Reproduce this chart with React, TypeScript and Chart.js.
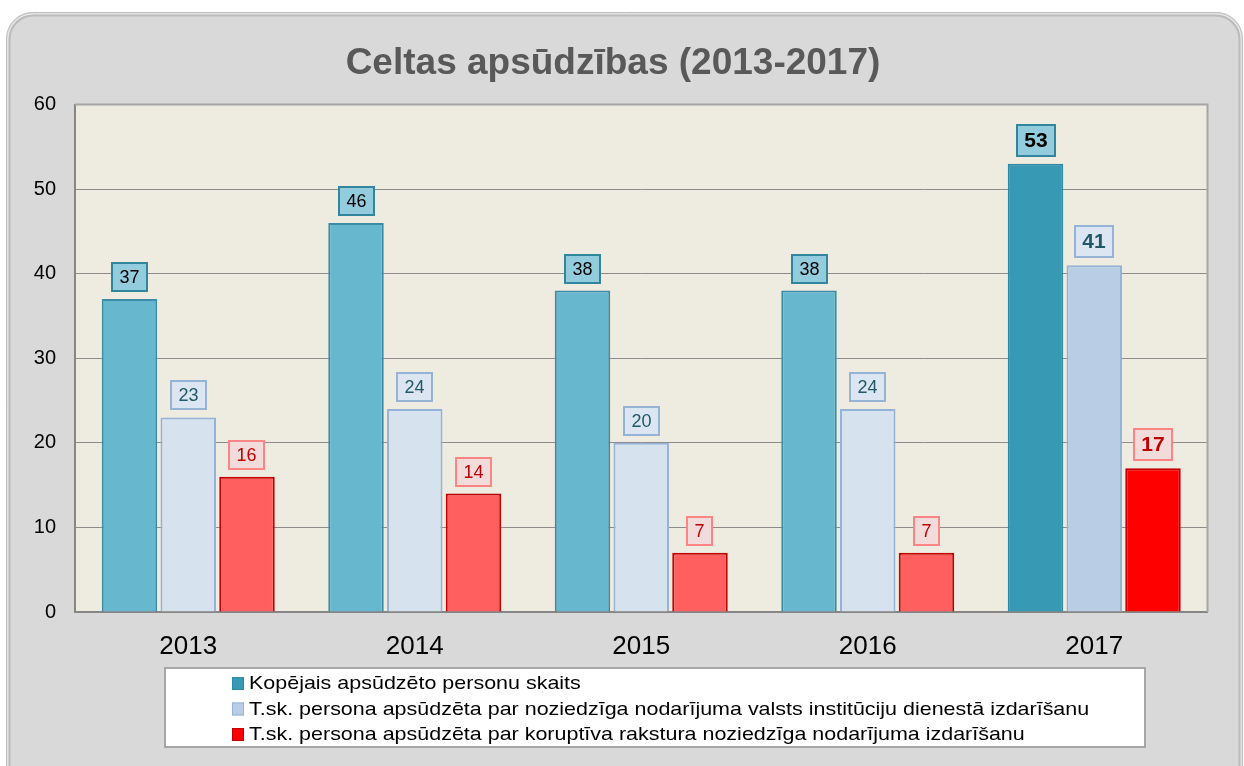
import React, { useEffect, useRef } from 'react';
import { Chart, registerables } from 'chart.js';

Chart.register(...registerables);

// ---- Data ----
const categories = ['2013', '2014', '2015', '2016', '2017'];
const totalAccused = [37, 46, 38, 38, 53];
const publicServiceOffences = [23, 24, 20, 24, 41];
const corruptionOffences = [16, 14, 7, 7, 17];
const seriesNames = [
  'Kopējais apsūdzēto personu skaits',
  'T.sk. persona apsūdzēta par noziedzīga nodarījuma valsts institūciju dienestā izdarīšanu',
  'T.sk. persona apsūdzēta par koruptīva rakstura noziedzīga nodarījuma izdarīšanu',
];
const chartTitle = 'Celtas apsūdzības (2013-2017)';
const yMin = 0;
const yMax = 60;
const yStep = 10;
const highlightCategory = '2017';

// ---- Styles ----
const FONT = '"Liberation Sans", Arial, sans-serif';
const seriesStyles = [
  { fill: '#67b8cf', hiFill: '#3799b4', border: '#3b8ca4', hiBorder: '#2f8aa3', labelFill: '#93cddd', labelBorder: '#31859c', labelText: '#000000' },
  { fill: '#d7e2ef', hiFill: '#b9cde5', border: '#95b3d7', hiBorder: '#95b3d7', labelFill: '#dce6f2', labelBorder: '#95b3d7', labelText: '#215968' },
  { fill: '#ff5f5f', hiFill: '#ff0000', border: '#c00000', hiBorder: '#c00000', labelFill: '#f2dcdb', labelBorder: '#ff8585', labelText: '#c00000' },
];

const W = 1244;
const H = 766;

function roundRectPath(ctx: CanvasRenderingContext2D, x: number, y: number, w: number, h: number, r: number) {
  ctx.beginPath();
  ctx.moveTo(x + r, y);
  ctx.lineTo(x + w - r, y);
  ctx.arcTo(x + w, y, x + w, y + r, r);
  ctx.lineTo(x + w, y + h - r);
  ctx.arcTo(x + w, y + h, x + w - r, y + h, r);
  ctx.lineTo(x + r, y + h);
  ctx.arcTo(x, y + h, x, y + h - r, r);
  ctx.lineTo(x, y + r);
  ctx.arcTo(x, y, x + r, y, r);
  ctx.closePath();
}

const decorPlugin = {
  id: 'decor',
  beforeDraw(chart: any) {
    const ctx = chart.ctx as CanvasRenderingContext2D;
    const ca = chart.chartArea;
    ctx.save();
    ctx.fillStyle = '#ffffff';
    ctx.fillRect(0, 0, W, H);
    // outer frame
    roundRectPath(ctx, 6.5, 12.5, 1236, 820, 26);
    ctx.fillStyle = '#d9d9d9';
    ctx.fill();
    ctx.lineWidth = 1;
    ctx.strokeStyle = '#bdbdbd';
    ctx.stroke();
    roundRectPath(ctx, 8, 14, 1233, 820, 25);
    ctx.strokeStyle = '#ececec';
    ctx.lineWidth = 1;
    ctx.stroke();
    roundRectPath(ctx, 9.5, 15.5, 1230, 820, 24);
    ctx.strokeStyle = '#bcbcbc';
    ctx.lineWidth = 2;
    ctx.stroke();
    // plot background
    ctx.fillStyle = '#eeebe0';
    ctx.fillRect(ca.left, ca.top, ca.right - ca.left, ca.bottom - ca.top);
    ctx.restore();
  },
  beforeDatasetsDraw(chart: any) {
    const ctx = chart.ctx as CanvasRenderingContext2D;
    const ca = chart.chartArea;
    ctx.save();
    ctx.strokeStyle = '#a6a6a6';
    ctx.lineWidth = 2;
    ctx.beginPath();
    ctx.moveTo(ca.left, ca.top);
    ctx.lineTo(ca.right, ca.top);
    ctx.lineTo(ca.right, ca.bottom);
    ctx.stroke();
    ctx.restore();
  },
  afterDatasetsDraw(chart: any) {
    const ctx = chart.ctx as CanvasRenderingContext2D;
    chart.data.datasets.forEach((ds: any, di: number) => {
      const meta = chart.getDatasetMeta(di);
      const st = seriesStyles[di];
      meta.data.forEach((bar: any, i: number) => {
        const v = ds.data[i];
        const hi = chart.data.labels[i] === highlightCategory;
        const fs = hi ? 21 : 18;
        ctx.save();
        ctx.font = `${hi ? 'bold ' : ''}${fs}px ${FONT}`;
        const text = String(v);
        const tw = ctx.measureText(text).width;
        const bw = Math.round(tw + 17);
        const bh = hi ? 33 : 30;
        const bx = Math.round(bar.x - bw / 2);
        const by = Math.round(bar.y - 7 - bh);
        ctx.fillStyle = st.labelFill;
        ctx.fillRect(bx, by, bw, bh);
        ctx.strokeStyle = st.labelBorder;
        ctx.lineWidth = 2;
        ctx.strokeRect(bx + 1, by + 1, bw - 2, bh - 2);
        ctx.fillStyle = st.labelText;
        ctx.textAlign = 'center';
        ctx.textBaseline = 'middle';
        ctx.fillText(text, bx + bw / 2, by + bh / 2 + 1);
        ctx.restore();
      });
    });
  },
  afterDraw(chart: any) {
    const ctx = chart.ctx as CanvasRenderingContext2D;
    ctx.save();
    // title
    ctx.font = `bold 37px ${FONT}`;
    ctx.fillStyle = '#595959';
    ctx.textAlign = 'center';
    ctx.textBaseline = 'middle';
    ctx.fillText(chartTitle, 613, 64);
    // legend box
    ctx.fillStyle = '#ffffff';
    ctx.fillRect(164, 667, 982, 81);
    ctx.strokeStyle = '#a6a6a6';
    ctx.lineWidth = 2;
    ctx.strokeRect(165, 668, 980, 79);
    ctx.font = `19px ${FONT}`;
    ctx.textAlign = 'left';
    ctx.textBaseline = 'middle';
    const rows = [683, 708.5, 734];
    chart.data.datasets.forEach((ds: any, di: number) => {
      const st = seriesStyles[di];
      const cy = rows[di];
      ctx.fillStyle = st.hiFill;
      ctx.fillRect(232, cy - 6, 12, 13);
      ctx.strokeStyle = st.hiBorder;
      ctx.lineWidth = 1;
      ctx.strokeRect(232.5, cy - 5.5, 11, 12);
      ctx.fillStyle = '#000000';
      ctx.save();
      ctx.translate(249, cy + 1);
      ctx.scale(1.13, 1);
      ctx.fillText(ds.label, 0, 0);
      ctx.restore();
    });
    ctx.restore();
  },
};

export default function App() {
  const ref = useRef<HTMLCanvasElement | null>(null);

  useEffect(() => {
    if (!ref.current) return;
    const valueSets = [totalAccused, publicServiceOffences, corruptionOffences];
    const datasets = valueSets.map((vals, di) => {
      const st = seriesStyles[di];
      return {
        label: seriesNames[di],
        data: vals,
        backgroundColor: categories.map((c) => (c === highlightCategory ? st.hiFill : st.fill)),
        borderColor: categories.map((c) => (c === highlightCategory ? st.hiBorder : st.border)),
        borderWidth: 2,
        categoryPercentage: 0.778,
        barPercentage: 0.945,
      };
    });
    const chart = new Chart(ref.current, {
      type: 'bar',
      data: { labels: categories, datasets },
      plugins: [decorPlugin],
      options: {
        animation: false,
        responsive: false,
        devicePixelRatio: 1,
        layout: { padding: { left: 0, top: 104.5, right: 36.5, bottom: 0 } },
        plugins: {
          legend: { display: false },
          title: { display: false },
          tooltip: { enabled: false },
        },
        scales: {
          x: {
            grid: { display: false, drawTicks: false },
            border: { display: true, color: '#868686', width: 2 },
            ticks: { color: '#000000', font: { family: FONT, size: 26 }, padding: 19 },
            afterFit: (scale: any) => { scale.height = 154; },
          },
          y: {
            min: yMin,
            max: yMax,
            grid: { color: '#8c8c8c', lineWidth: 1, drawTicks: false },
            border: { display: true, color: '#868686', width: 2 },
            ticks: { stepSize: yStep, color: '#000000', font: { family: FONT, size: 20 }, padding: 19 },
            afterFit: (scale: any) => { scale.width = 75; },
          },
        },
      },
    } as any);
    return () => chart.destroy();
  }, []);

  return (
    <div style={{ position: 'fixed', left: 0, top: 0, width: W, height: H, background: '#ffffff' }}>
      <canvas ref={ref} width={W} height={H} style={{ display: 'block', width: W, height: H }} />
    </div>
  );
}
